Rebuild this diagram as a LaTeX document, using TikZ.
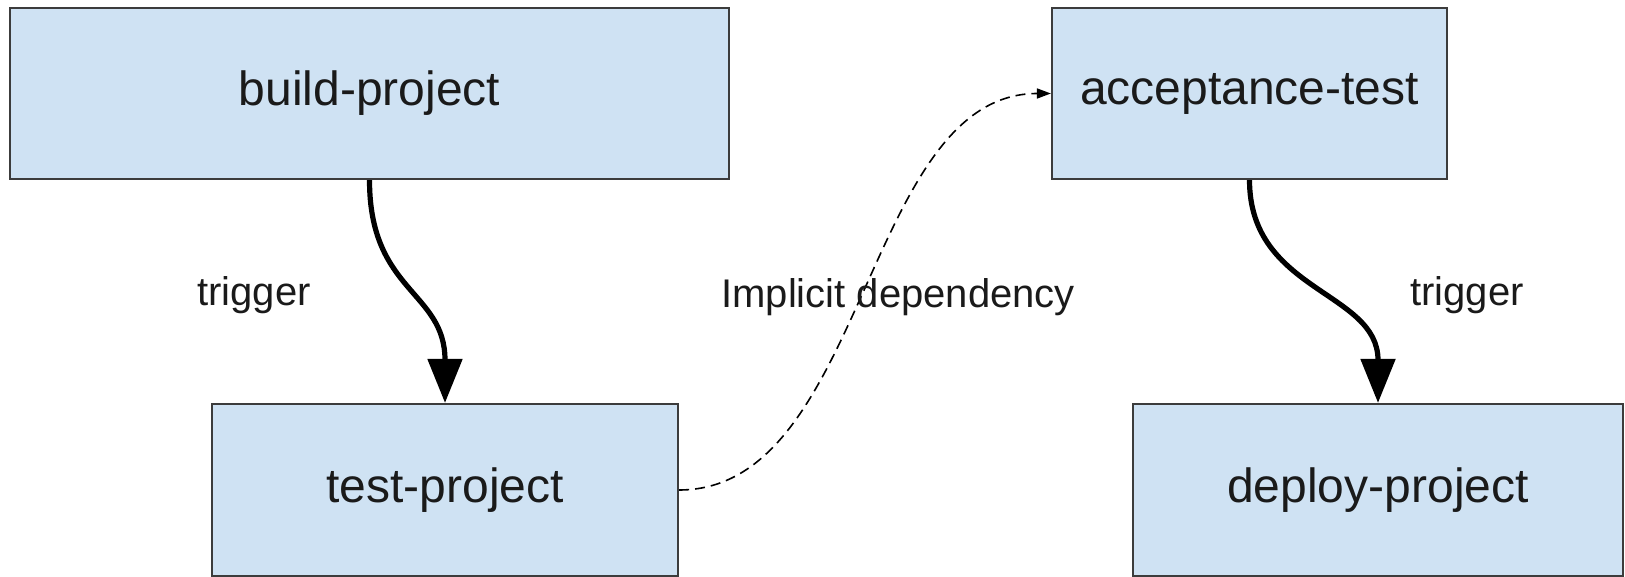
\documentclass[tikz,border=0pt]{standalone}
\usepackage{fontspec}
\setmainfont{Liberation Sans}
\usetikzlibrary{arrows.meta}
\definecolor{boxfill}{HTML}{CFE2F3}
\definecolor{boxline}{HTML}{3C3C3C}
\definecolor{txt}{HTML}{1A1A1A}
\tikzset{
  box/.style={draw=boxline, fill=boxfill, line width=1.1pt, inner sep=0pt,
    text=txt, font=\fontsize{24pt}{28pt}\selectfont},
  lbl/.style={anchor=base west, inner sep=0pt, text=txt, font=\fontsize{20pt}{24pt}\selectfont},
  trig/.style={line width=2.6pt, -{Triangle[length=22pt,width=17pt]}},
  implicit/.style={line width=0.8pt, dash pattern=on 5pt off 3pt, -{Triangle[length=7pt,width=5pt]}}
}
\begin{document}
\begin{tikzpicture}[x=0.5pt,y=-0.5pt]
\useasboundingbox (0,0) rectangle (1625,577);
\node[box, minimum width=359.5pt, minimum height=85.5pt] (build) at (369.5,93.5) {build-project};
\node[box, minimum width=233pt, minimum height=86pt] (test) at (445,490) {test-project};
\node[box, minimum width=197.5pt, minimum height=85.5pt] (accept) at (1249.5,93.5) {acceptance-test};
\node[box, minimum width=245pt, minimum height=86pt] (deploy) at (1378,490) {deploy-project};
\draw[trig] (build.south) .. controls +(0,112) and +(0,-112) .. (test.north);
\draw[trig] (accept.south) .. controls +(0,112) and +(0,-112) .. (deploy.north);
\draw[implicit] (test.east) .. controls +(187,0) and +(-187,0) .. (accept.west);
\node[lbl] (t1) at (197,305) {trigger};
\node[lbl] (t2) at (1410,305) {trigger};
\node[lbl] (dep) at (721,307) {Implicit dependency};
\end{tikzpicture}
\end{document}
